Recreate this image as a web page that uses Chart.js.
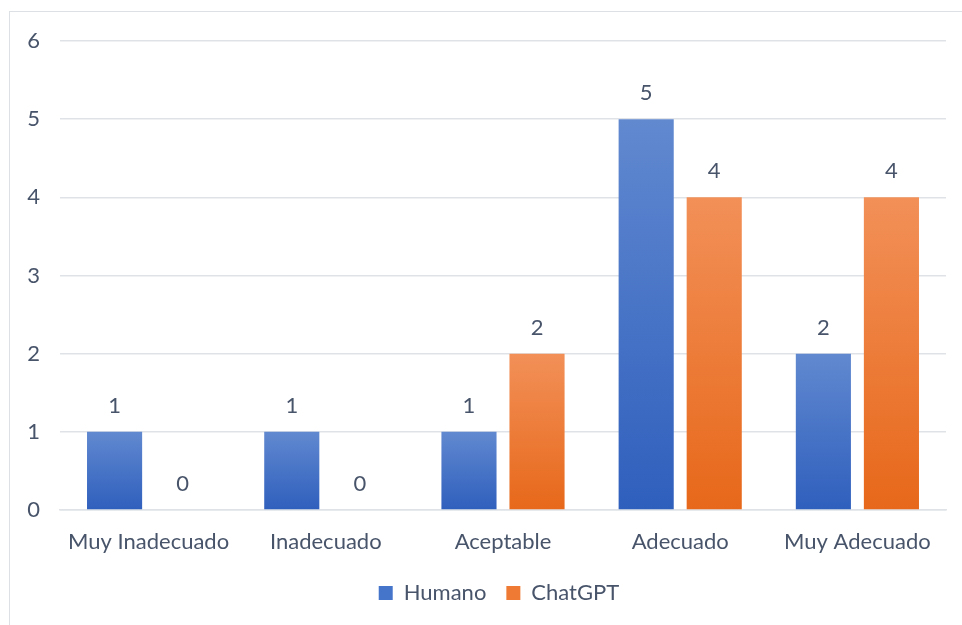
<!DOCTYPE html>
<html>
<head>
<meta charset="utf-8">
<script src="https://cdn.jsdelivr.net/npm/chart.js@4/dist/chart.umd.min.js"></script>
<style>
  body { margin: 0; background: #fff; overflow: hidden; }
  #frame { position: absolute; left: 9px; top: 11px; width: 1000px; height: 700px; border: 1.5px solid #dde1e6; }
  #wrap { position: absolute; left: 0; top: 0; width: 962px; height: 625px; }
</style>
</head>
<body>
<div id="frame"></div>
<div id="wrap"><canvas id="chart"></canvas></div>
<script>
const categories = ['Muy Inadecuado', 'Inadecuado', 'Aceptable', 'Adecuado', 'Muy Adecuado'];
const humano = [1, 1, 1, 5, 2];
const chatgpt = [0, 0, 2, 4, 4];
const yTicks = [0, 1, 2, 3, 4, 5, 6];

const textColor = '#48546a';
const gridColor = '#dfe3e8';
const fontFamily = 'Lato, "Open Sans", sans-serif';
const fontSize = 22;

// gradient per bar, light at the top, darker at the base
function barFill(top, bottom, solid) {
  return function (context) {
    const chart = context.chart;
    if (context.dataIndex === undefined || !chart.chartArea) return solid;
    const y = chart.scales.y;
    const v = context.dataset.data[context.dataIndex];
    const y0 = y.getPixelForValue(v);
    const y1 = y.getPixelForValue(0);
    if (y1 - y0 < 1) return solid;
    const g = chart.ctx.createLinearGradient(0, y0, 0, y1);
    g.addColorStop(0, top);
    g.addColorStop(1, bottom);
    return g;
  };
}

const valueLabels = {
  id: 'valueLabels',
  afterDatasetsDraw(chart) {
    const ctx = chart.ctx;
    ctx.save();
    ctx.font = fontSize + 'px ' + fontFamily;
    ctx.fillStyle = textColor;
    ctx.textAlign = 'center';
    ctx.textBaseline = 'middle';
    chart.data.datasets.forEach((ds, i) => {
      chart.getDatasetMeta(i).data.forEach((bar, j) => {
        ctx.fillText(String(ds.data[j]), bar.x, bar.y - 26);
      });
    });
    ctx.restore();
  }
};

// legend sits a little right of the canvas centre in the original
const legendShift = {
  id: 'legendShift',
  afterLayout(chart) {
    if (chart.legend) {
      chart.legend.left += 26;
      chart.legend.right += 26;
    }
  }
};

new Chart(document.getElementById('chart'), {
  type: 'bar',
  data: {
    labels: categories,
    datasets: [{
      label: 'Humano',
      data: humano,
      backgroundColor: barFill('#6189d0', '#2f5fbd', '#4574cb'),
      categoryPercentage: 0.768,
      barPercentage: 0.81
    }, {
      label: 'ChatGPT',
      data: chatgpt,
      backgroundColor: barFill('#f29058', '#e7681a', '#ef7a33'),
      categoryPercentage: 0.768,
      barPercentage: 0.81
    }]
  },
  plugins: [valueLabels, legendShift],
  options: {
    responsive: true,
    maintainAspectRatio: false,
    animation: false,
    layout: { padding: { top: 41, right: 16, bottom: 11, left: 0 } },
    scales: {
      y: {
        min: 0,
        max: 6,
        afterFit: s => { s.width = 60; },
        afterBuildTicks: s => { s.ticks = yTicks.map(v => ({ value: v })); },
        border: { display: false },
        grid: { color: gridColor, lineWidth: 1.5, drawTicks: false },
        ticks: { color: textColor, font: { family: fontFamily, size: fontSize }, padding: 20 }
      },
      x: {
        afterFit: s => { s.height = 52; },
        border: { color: gridColor, width: 1.5 },
        grid: { display: false },
        ticks: { color: textColor, font: { family: fontFamily, size: fontSize }, padding: 11 }
      }
    },
    plugins: {
      tooltip: { enabled: false },
      legend: {
        position: 'bottom',
        labels: {
          color: textColor,
          font: { family: fontFamily, size: fontSize },
          boxWidth: 14,
          boxHeight: 14,
          padding: 20,
          generateLabels: chart => chart.data.datasets.map((ds, i) => ({
            text: ds.label,
            fillStyle: i === 0 ? '#4574cb' : '#ef7a33',
            strokeStyle: 'rgba(0,0,0,0)',
            lineWidth: 0,
            fontColor: textColor,
            datasetIndex: i
          }))
        }
      }
    }
  }
});
</script>
</body>
</html>
